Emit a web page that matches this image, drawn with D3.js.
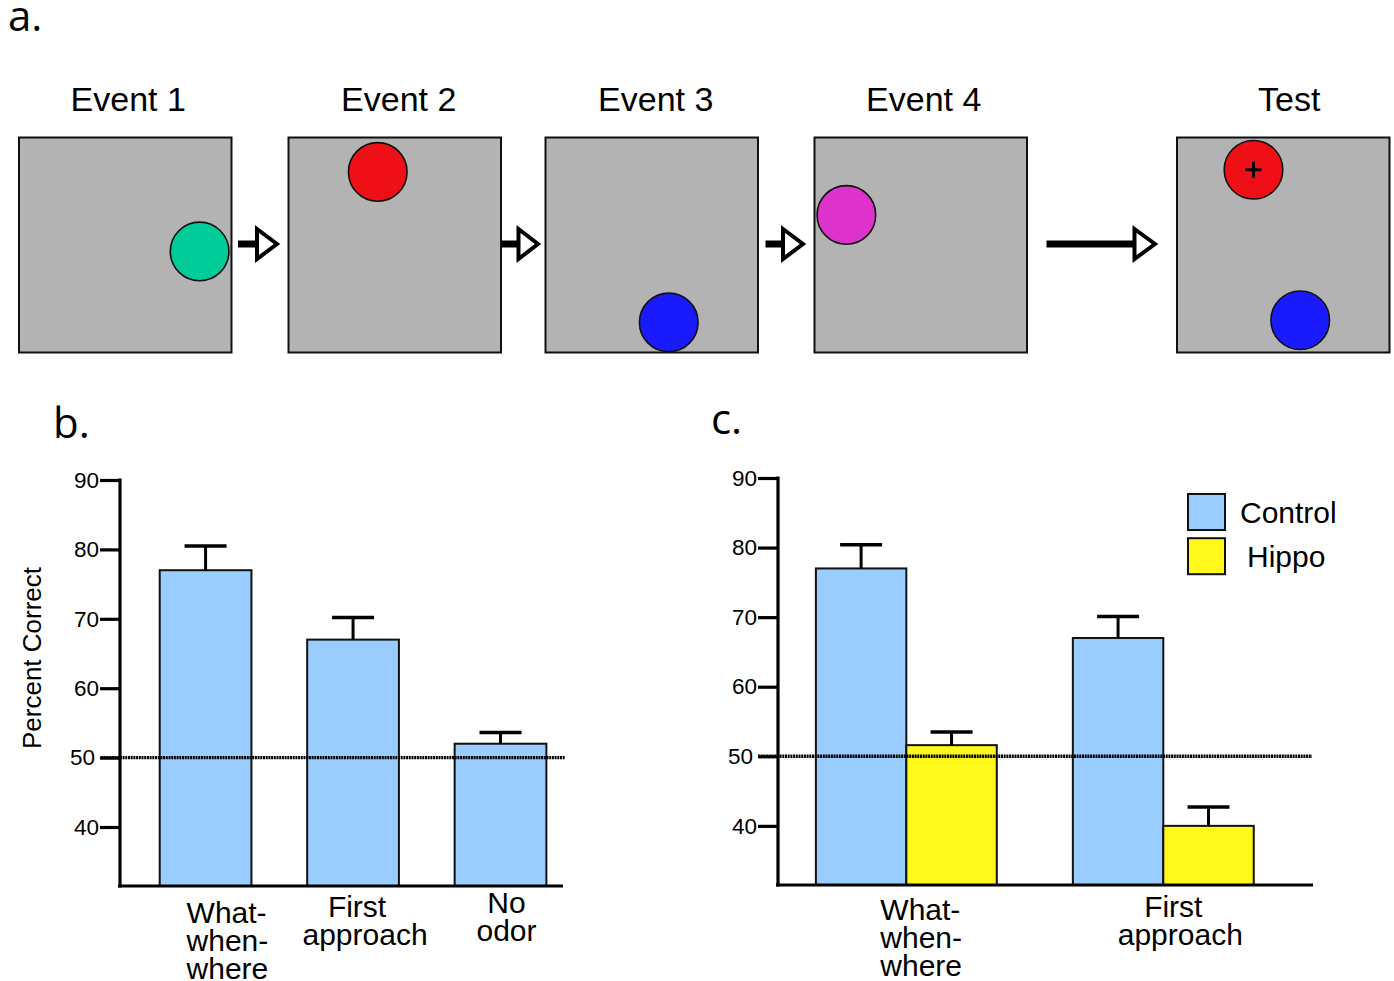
<!DOCTYPE html>
<html><head><meta charset="utf-8">
<script src="https://cdn.jsdelivr.net/npm/d3@7/dist/d3.min.js"></script>
<style>
html,body{margin:0;padding:0;background:#fff;}
svg{display:block;}
text{font-family:"Liberation Sans",Arial,sans-serif;fill:#000;}
</style></head>
<body>
<svg id="chart" width="1394" height="981"></svg>
<script>
// ---------- DATA ----------
// Panel a: event arenas, object positions in arena units (0..100, x right, y down)
const events = ["Event 1", "Event 2", "Event 3", "Event 4", "Test"];
const objectX = [[85], [42], [58], [15], [36, 58]];
const objectY = [[53], [16], [86], [36], [15, 85]];
const objectColor = [["#00cc99"], ["#ef0f16"], ["#1a1aff"], ["#dd33cc"], ["#ef0f16", "#1a1aff"]];
const objectMarked = [[false], [false], [false], [false], [true, false]];

// Panel b
const catsB = ["What-when-where", "First approach", "No odor"];
const labelLinesB = [["What-", "when-", "where"], ["First", "approach"], ["No", "odor"]];
const valuesB = [77.0, 67.0, 52.0];
const errorsB = [3.5, 3.2, 1.6];

// Panel c
const catsC = ["What-when-where", "First approach"];
const labelLinesC = [["What-", "when-", "where"], ["First", "approach"]];
const seriesC = ["Control", "Hippo"];
const controlC = [77.0, 67.0];
const controlErrC = [3.4, 3.1];
const hippoC = [51.6, 40.0];
const hippoErrC = [1.9, 2.7];

const yTicks = [40, 50, 60, 70, 80, 90];
const chance = 50;
const yMin = 31.5, yMax = 90;

// ---------- STYLE ----------
const colCtrl = "#99ccff", colHippo = "#fff81a", arenaFill = "#b3b3b3";
const svg = d3.select("#chart");

// ---------- PANEL LABELS ----------
const letters = [["a.", 8, 31], ["b.", 53, 438], ["c.", 711, 434]];
svg.selectAll("text.letter").data(letters).join("text")
  .attr("class", "letter")
  .attr("x", d => d[1]).attr("y", d => d[2])
  .style("font-family", "'Open Sans', 'DejaVu Sans', sans-serif")
  .style("font-size", "42px")
  .text(d => d[0]);

// ---------- PANEL A ----------
const arenaLeft = [19, 288.5, 545.5, 814.5, 1177];
const arenaW = 212.5, arenaTop = 137.5, arenaH = 215;
const titleDx = [3, 4, 4, 3, 6];
const gA = svg.append("g");
events.forEach((ev, i) => {
  const sx = d3.scaleLinear().domain([0, 100]).range([arenaLeft[i], arenaLeft[i] + arenaW]);
  const sy = d3.scaleLinear().domain([0, 100]).range([arenaTop, arenaTop + arenaH]);
  gA.append("text").attr("x", sx(50) + titleDx[i]).attr("y", 111)
    .attr("text-anchor", "middle").style("font-size", "34px").text(ev);
  gA.append("rect").attr("x", sx(0)).attr("y", sy(0))
    .attr("width", arenaW).attr("height", arenaH)
    .attr("fill", arenaFill).attr("stroke", "#111").attr("stroke-width", 2);
  objectX[i].forEach((ox, j) => {
    const cx = sx(ox), cy = sy(objectY[i][j]);
    gA.append("circle").attr("cx", cx).attr("cy", cy).attr("r", 29.3)
      .attr("fill", objectColor[i][j]).attr("stroke", "#111").attr("stroke-width", 1.6);
    if (objectMarked[i][j]) {
      gA.append("path").attr("d", `M${cx - 8},${cy}H${cx + 8}M${cx},${cy - 8}V${cy + 8}`)
        .attr("stroke", "#000").attr("stroke-width", 3);
    }
  });
});
// arrows between arenas
const arrowSpans = [[238, 257, 277], [501, 518.5, 538], [765.5, 783, 803], [1046.5, 1134.5, 1155]];
arrowSpans.forEach(a => {
  const y = 244;
  gA.append("line").attr("x1", a[0]).attr("x2", a[1]).attr("y1", y).attr("y2", y)
    .attr("stroke", "#000").attr("stroke-width", 7);
  gA.append("path").attr("d", `M${a[1]},${y - 15}L${a[2]},${y}L${a[1]},${y + 15}Z`)
    .attr("fill", "#fff").attr("stroke", "#000").attr("stroke-width", 4).attr("stroke-linejoin", "miter");
});

// ---------- helpers ----------
function yAxis(g, y, x0) {
  const ax = d3.axisLeft(y).tickValues(yTicks).tickSize(20).tickSizeOuter(0).tickPadding(1);
  const a = g.append("g").attr("transform", `translate(${x0},0)`).call(ax);
  a.select(".domain").remove();
  a.selectAll(".tick line").attr("stroke", "#000").attr("stroke-width", 3.2);
  a.selectAll(".tick text").style("font-size", "22.5px")
    .style("font-family", "'Liberation Sans', Arial, sans-serif").attr("fill", "#000");
  a.selectAll(".tick").filter(d => d === 50).select("text").attr("dx", -4);
  g.append("line").attr("x1", x0).attr("x2", x0)
    .attr("y1", y(yMax) - 1.5).attr("y2", y(yMin) + 1.5)
    .attr("stroke", "#000").attr("stroke-width", 3.2);
}
function errBar(g, cx, yTop, yCap) {
  g.append("line").attr("x1", cx).attr("x2", cx).attr("y1", yTop).attr("y2", yCap)
    .attr("stroke", "#000").attr("stroke-width", 3);
  g.append("line").attr("x1", cx - 21).attr("x2", cx + 21).attr("y1", yCap).attr("y2", yCap)
    .attr("stroke", "#000").attr("stroke-width", 3.5);
}
function catLabels(g, lines, cx, yBase, block) {
  lines.forEach((ln, k) => {
    g.append("text").attr("x", cx).attr("y", yBase + k * 28)
      .attr("text-anchor", block ? "start" : "middle").style("font-size", "30px").text(ln);
  });
}
function chanceLine(g, x1, x2, y) {
  g.append("line").attr("x1", x1).attr("x2", x2).attr("y1", y).attr("y2", y)
    .attr("stroke", "#000").attr("stroke-width", 3.4).attr("stroke-dasharray", "2,0.7");
}

// ---------- PANEL B ----------
const gB = svg.append("g");
const yB = d3.scaleLinear().domain([yMin, yMax]).range([886, 480]);
const xB = d3.scaleBand().domain(catsB).range([120, 563])
  .paddingInner(0.378).paddingOuter(0.191).align(0.705);
gB.append("text").attr("transform", `translate(41,658) rotate(-90)`)
  .attr("text-anchor", "middle").style("font-size", "26px").text("Percent Correct");
catsB.forEach((c, i) => {
  gB.append("rect").attr("x", xB(c)).attr("y", yB(valuesB[i]))
    .attr("width", xB.bandwidth()).attr("height", yB(yMin) - yB(valuesB[i]))
    .attr("fill", colCtrl).attr("stroke", "#111").attr("stroke-width", 2);
  errBar(gB, xB(c) + xB.bandwidth() / 2, yB(valuesB[i]), yB(valuesB[i] + errorsB[i]));
});
yAxis(gB, yB, 120);
gB.append("line").attr("x1", 118).attr("x2", 563).attr("y1", yB(yMin)).attr("y2", yB(yMin))
  .attr("stroke", "#000").attr("stroke-width", 3.2);
chanceLine(gB, 101, 565, yB(chance));
// category labels
const lblOffB = [[-19, 923, true], [6, 917, false], [6, 913, false]];
catsB.forEach((c, i) => {
  const cx = xB(c) + xB.bandwidth() / 2 + lblOffB[i][0];
  const lines = labelLinesB[i];
  if (i === 1) {
    gB.append("text").attr("x", cx - 2).attr("y", lblOffB[i][1]).attr("text-anchor", "middle").style("font-size", "30px").text(lines[0]);
    gB.append("text").attr("x", cx + 6).attr("y", lblOffB[i][1] + 28).attr("text-anchor", "middle").style("font-size", "30px").text(lines[1]);
  } else catLabels(gB, lines, cx, lblOffB[i][1], lblOffB[i][2]);
});

// ---------- PANEL C ----------
const gC = svg.append("g");
const yC = d3.scaleLinear().domain([yMin, yMax]).range([885, 478]);
const xC = d3.scaleBand().domain(catsC).range([778, 1313])
  .paddingInner(0.296).paddingOuter(0.189).align(0.39);
const xSub = d3.scaleBand().domain(seriesC).range([0, xC.bandwidth()]);
const seriesVals = [controlC, hippoC], seriesErr = [controlErrC, hippoErrC], seriesCol = [colCtrl, colHippo];
catsC.forEach((c, i) => {
  seriesC.forEach((s, j) => {
    const v = seriesVals[j][i];
    const x = xC(c) + xSub(s);
    gC.append("rect").attr("x", x).attr("y", yC(v))
      .attr("width", xSub.bandwidth()).attr("height", yC(yMin) - yC(v))
      .attr("fill", seriesCol[j]).attr("stroke", "#111").attr("stroke-width", 2);
    errBar(gC, x + xSub.bandwidth() / 2, yC(v), yC(v + seriesErr[j][i]));
  });
});
yAxis(gC, yC, 778);
gC.append("line").attr("x1", 776).attr("x2", 1313).attr("y1", yC(yMin)).attr("y2", yC(yMin))
  .attr("stroke", "#000").attr("stroke-width", 3.2);
chanceLine(gC, 758, 1312, yC(chance));
catsC.forEach((c, i) => {
  const cx = xC(c) + xC.bandwidth() / 2;
  const lines = labelLinesC[i];
  if (i === 0) catLabels(gC, lines, cx - 26, 920, true);
  else {
    gC.append("text").attr("x", cx + 10).attr("y", 917).attr("text-anchor", "middle").style("font-size", "30px").text(lines[0]);
    gC.append("text").attr("x", cx + 17).attr("y", 945).attr("text-anchor", "middle").style("font-size", "30px").text(lines[1]);
  }
});
// legend
const legY = d3.scaleBand().domain(seriesC).range([494, 578]).paddingInner(0.1);
seriesC.forEach((s, j) => {
  gC.append("rect").attr("x", 1188).attr("y", legY(s)).attr("width", 37).attr("height", 36)
    .attr("fill", seriesCol[j]).attr("stroke", "#111").attr("stroke-width", 2);
  gC.append("text").attr("x", j === 0 ? 1240 : 1247).attr("y", legY(s) + 29)
    .style("font-size", "30px").text(s);
});
</script>
</body></html>
